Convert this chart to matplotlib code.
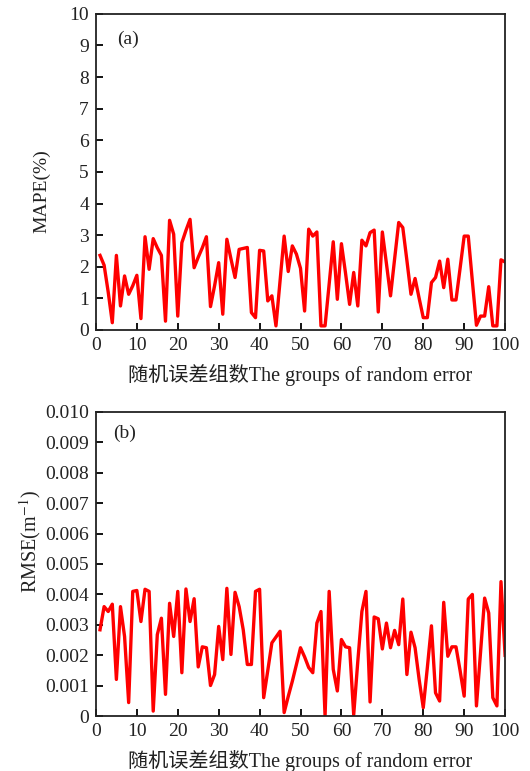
"""
random_error_groups.py

MAPE and RMSE of the retrieval
for 100 groups of random error.
"""

import numpy as np
import matplotlib.pyplot as plt

plt.rcParams["font.family"] = [
    "Liberation Serif",
    "Noto Sans CJK SC"
]
plt.rcParams["mathtext.fontset"] = "stix"

groups = np.arange(1, 101)

# MAPE (%) for each group
mape = [
    2.36, 2.05, 1.20, 0.23, 2.36, 0.76, 1.71, 1.13, 1.40, 1.73,
    0.36, 2.95, 1.92, 2.89, 2.60, 2.36, 0.28, 3.47, 3.03, 0.44,
    2.76, 3.15, 3.50, 1.97, 2.30, 2.60, 2.95, 0.74, 1.40, 2.13,
    0.50, 2.87, 2.25, 1.66, 2.55, 2.58, 2.61, 0.55, 0.39, 2.52,
    2.50, 0.92, 1.08, 0.13, 1.55, 2.97, 1.85, 2.66, 2.40, 1.95,
    0.60, 3.19, 2.97, 3.10, 0.13, 0.13, 1.45, 2.79, 0.97, 2.73,
    1.80, 0.81, 1.82, 0.76, 2.84, 2.66, 3.08, 3.16, 0.57, 3.10,
    2.10, 1.08, 2.25, 3.40, 3.24, 2.20, 1.13, 1.63, 1.00, 0.39,
    0.39, 1.50, 1.66, 2.18, 1.34, 2.24, 0.95, 0.95, 1.95, 2.97,
    2.97, 1.55, 0.15, 0.44, 0.44, 1.37, 0.13, 0.13, 2.22, 2.15,
]

# RMSE (1/m) for each group
rmse = np.array([
    2.84, 3.60, 3.44, 3.68, 1.21, 3.60, 2.62, 0.45, 4.10, 4.13,
    3.11, 4.17, 4.10, 0.17, 2.68, 3.22, 0.72, 3.71, 2.62, 4.10,
    1.43, 4.18, 3.11, 3.86, 1.62, 2.28, 2.25, 1.01, 1.37, 2.95,
    1.86, 4.20, 2.03, 4.07, 3.60, 2.84, 1.70, 1.70, 4.10, 4.17,
    0.61, 1.50, 2.41, 2.60, 2.79, 0.12, 0.65, 1.15, 1.70, 2.25,
    1.95, 1.60, 1.43, 3.06, 3.44, 0.01, 4.10, 1.54, 0.83, 2.52,
    2.28, 2.25, 0.05, 1.80, 3.44, 4.10, 0.47, 3.26, 3.20, 2.21,
    3.06, 2.25, 2.82, 2.35, 3.85, 1.37, 2.76, 2.25, 1.20, 0.28,
    1.60, 2.97, 0.77, 0.50, 3.74, 1.97, 2.28, 2.28, 1.50, 0.66,
    3.85, 4.00, 0.34, 2.10, 3.88, 3.39, 0.61, 0.34, 4.42, 2.00,
]) * 1e-3

xlabel = "随机误差组数The groups of random error"

rmse_ticks = np.arange(0, 0.0105, 0.001)
rmse_ticklabels = ["0"] + [f"{t:.3f}" for t in rmse_ticks[1:]]

fig = plt.figure(
    figsize=(5.3, 7.71),
    dpi=100
)

ax_a = fig.add_axes([0.181, 0.572, 0.772, 0.410])
ax_b = fig.add_axes([0.181, 0.071, 0.772, 0.395])

for ax in (ax_a, ax_b):

    for spine in ax.spines.values():
        spine.set_linewidth(1.3)
        spine.set_color("#222222")

    ax.tick_params(
        direction="in",
        length=5,
        width=1.3,
        pad=5,
        labelsize=14,
        labelcolor="#222222",
        top=False,
        right=False
    )

    ax.set_xlim(0, 100)
    ax.set_xticks(np.arange(0, 101, 10))

    ax.set_xlabel(
        xlabel,
        fontsize=14.5,
        color="#222222",
        labelpad=7
    )

#
# (a) MAPE
#

ax_a.plot(
    groups,
    mape,
    color="#ff0000",
    linewidth=2.4
)

ax_a.set_ylim(0, 10)
ax_a.set_yticks(np.arange(0, 11, 1))

ax_a.set_ylabel(
    "MAPE(%)",
    fontsize=14,
    color="#222222"
)
ax_a.yaxis.set_label_coords(-0.112, 0.44)

ax_a.text(
    5.2, 9.2, "(a)",
    fontsize=14,
    color="#222222",
    va="center"
)

#
# (b) RMSE
#

ax_b.plot(
    groups,
    rmse,
    color="#ff0000",
    linewidth=2.4
)

ax_b.set_ylim(0, 0.010)
ax_b.set_yticks(rmse_ticks)
ax_b.set_yticklabels(rmse_ticklabels)

ax_b.set_ylabel(
    "RMSE(m$^{-1}$)",
    fontsize=14.5,
    color="#222222"
)
ax_b.yaxis.set_label_coords(-0.13, 0.575)

ax_b.text(
    4.2, 0.0093, "(b)",
    fontsize=14,
    color="#222222",
    va="center"
)

plt.savefig(
    "out.png",
    dpi=100
)
